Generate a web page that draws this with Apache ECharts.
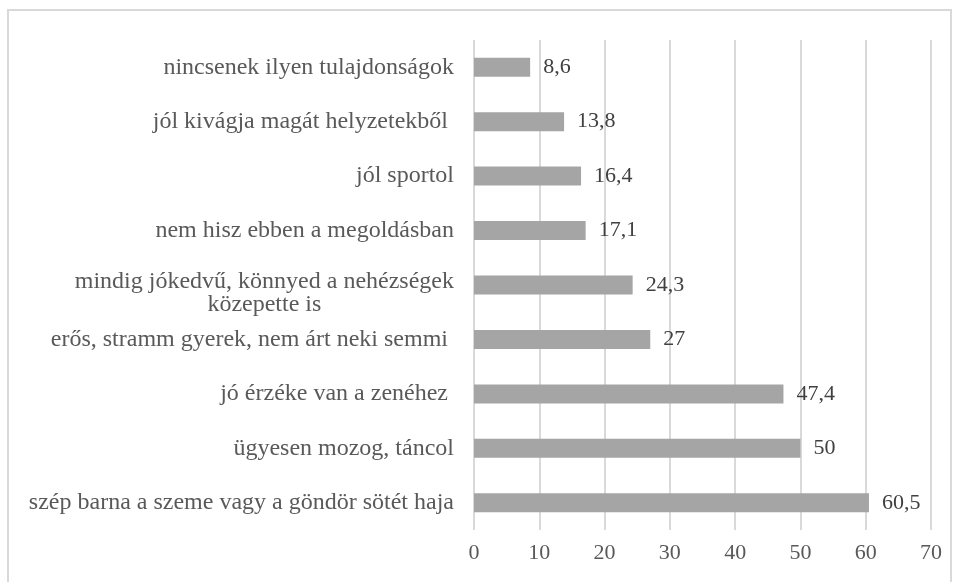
<!DOCTYPE html>
<html>
<head>
<meta charset="utf-8">
<script src="https://cdn.jsdelivr.net/npm/echarts@6/dist/echarts.min.js"></script>
<style>
  html, body { margin: 0; padding: 0; background: #fff; }
  #chart { width: 960px; height: 582px; }
</style>
</head>
<body>
<div id="chart"></div>
<script>
// kategóriák fentről lefelé
const categories = [
  'nincsenek ilyen tulajdonságok',
  'jól kivágja magát helyzetekből ',
  'jól sportol',
  'nem hisz ebben a megoldásban',
  'mindig jókedvű, könnyed a nehézségek\nközepette is',
  'erős, stramm gyerek, nem árt neki semmi ',
  'jó érzéke van a zenéhez ',
  'ügyesen mozog, táncol',
  'szép barna a szeme vagy a göndör sötét haja'
]
const values = [8.6, 13.8, 16.4, 17.1, 24.3, 27, 47.4, 50, 60.5]
const xTicks = [0, 10, 20, 30, 40, 50, 60, 70]

const font = '"Liberation Serif", "Times New Roman", serif'
const catSize = 24

// a többsoros címkét középre igazítjuk, de a blokk jobbra zár (és kicsit lejjebb ül)
const ctx = document.createElement('canvas').getContext('2d')
ctx.font = catSize + 'px ' + font
const yData = categories.map(c => {
  if (c.indexOf('\n') < 0) return c
  const w = Math.max(...c.split('\n').map(s => ctx.measureText(s).width))
  return { value: c, textStyle: { align: 'center', verticalAlign: 'top', padding: [-15, w, 0, 0] } }
})

const chart = echarts.init(document.getElementById('chart'))

chart.setOption({
  animation: false,
  graphic: [{
    type: 'rect',
    shape: { x: 8, y: 10, width: 943, height: 600 },
    style: { fill: 'none', stroke: '#d9d9d9', lineWidth: 2 },
    silent: true
  }],
  grid: { left: 474, right: 29, top: 40, bottom: 52 },
  xAxis: {
    type: 'value',
    min: xTicks[0],
    max: xTicks[xTicks.length - 1],
    interval: 10,
    axisLine: { show: false },
    axisTick: { show: false },
    splitLine: { lineStyle: { color: '#d9d9d9', width: 2 } },
    axisLabel: { color: '#595959', fontFamily: font, fontSize: 22, margin: 12 }
  },
  yAxis: {
    type: 'category',
    inverse: true,
    data: yData,
    axisLine: { show: false },
    axisTick: { show: false },
    axisLabel: {
      color: '#595959',
      fontFamily: font,
      fontSize: catSize,
      margin: 20,
      lineHeight: 23,
      interval: 0
    }
  },
  series: [{
    type: 'bar',
    data: values,
    barWidth: 19,
    itemStyle: { color: '#a5a5a5' },
    label: {
      show: true,
      position: 'right',
      distance: 13,
      color: '#404040',
      fontFamily: font,
      fontSize: 22,
      formatter: p => String(p.value).replace('.', ',')
    }
  }]
})
</script>
</body>
</html>
